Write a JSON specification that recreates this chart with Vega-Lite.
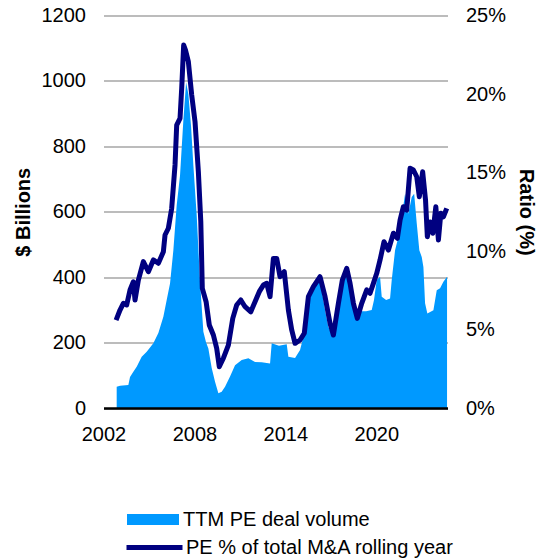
{
  "$schema": "https://vega.github.io/schema/vega-lite/v6.json",
  "width": 344,
  "height": 392.5,
  "autosize": "none",
  "padding": {"left": 103.5, "top": 15.5, "right": 95.5, "bottom": 150},
  "background": "white",
  "config": {
    "view": {"stroke": null},
    "font": "Liberation Sans",
    "axis": {"labelFont": "Liberation Sans", "titleFont": "Liberation Sans", "labelColor": "#000000", "titleColor": "#000000", "labelFontSize": 20, "titleFontSize": 20, "titleFontWeight": "bold", "ticks": false, "tickSize": 0},
    "legend": {"labelFont": "Liberation Sans", "labelFontSize": 20, "labelColor": "#000000", "padding": 0, "labelLimit": 0}
  },
  "datasets": {
    "vol": [
      {"year": 2002.87, "volume": 65}, {"year": 2003.09, "volume": 68}, {"year": 2003.64, "volume": 70}, {"year": 2003.75, "volume": 95},
      {"year": 2003.97, "volume": 111}, {"year": 2004.19, "volume": 126}, {"year": 2004.52, "volume": 157}, {"year": 2004.85, "volume": 172},
      {"year": 2005.29, "volume": 198}, {"year": 2005.62, "volume": 229}, {"year": 2005.95, "volume": 279}, {"year": 2006.17, "volume": 330},
      {"year": 2006.39, "volume": 381}, {"year": 2006.61, "volume": 482}, {"year": 2006.83, "volume": 620}, {"year": 2007.05, "volume": 711},
      {"year": 2007.27, "volume": 880}, {"year": 2007.45, "volume": 995}, {"year": 2007.6, "volume": 960}, {"year": 2007.78, "volume": 860},
      {"year": 2007.93, "volume": 742}, {"year": 2008.15, "volume": 589}, {"year": 2008.37, "volume": 386}, {"year": 2008.59, "volume": 233},
      {"year": 2008.77, "volume": 200}, {"year": 2008.92, "volume": 182}, {"year": 2009.14, "volume": 122}, {"year": 2009.36, "volume": 80},
      {"year": 2009.58, "volume": 45}, {"year": 2009.8, "volume": 50}, {"year": 2010.02, "volume": 65}, {"year": 2010.35, "volume": 96},
      {"year": 2010.68, "volume": 131}, {"year": 2011.12, "volume": 147}, {"year": 2011.56, "volume": 152}, {"year": 2012.0, "volume": 141},
      {"year": 2012.44, "volume": 140}, {"year": 2012.99, "volume": 136}, {"year": 2013.1, "volume": 198}, {"year": 2013.58, "volume": 190},
      {"year": 2014.09, "volume": 195}, {"year": 2014.2, "volume": 157}, {"year": 2014.64, "volume": 153}, {"year": 2014.97, "volume": 177},
      {"year": 2015.3, "volume": 238}, {"year": 2015.63, "volume": 340}, {"year": 2015.96, "volume": 370}, {"year": 2016.29, "volume": 391},
      {"year": 2016.62, "volume": 299}, {"year": 2016.84, "volume": 248}, {"year": 2017.17, "volume": 218}, {"year": 2017.5, "volume": 289},
      {"year": 2017.83, "volume": 391}, {"year": 2018.05, "volume": 412}, {"year": 2018.27, "volume": 360}, {"year": 2018.6, "volume": 299},
      {"year": 2018.93, "volume": 296}, {"year": 2019.33, "volume": 296}, {"year": 2019.7, "volume": 300}, {"year": 2019.85, "volume": 330},
      {"year": 2020.03, "volume": 391}, {"year": 2020.25, "volume": 401}, {"year": 2020.36, "volume": 340}, {"year": 2020.65, "volume": 330},
      {"year": 2020.91, "volume": 335}, {"year": 2021.02, "volume": 391}, {"year": 2021.24, "volume": 482}, {"year": 2021.46, "volume": 523},
      {"year": 2021.68, "volume": 584}, {"year": 2021.9, "volume": 655}, {"year": 2022.12, "volume": 594}, {"year": 2022.34, "volume": 645},
      {"year": 2022.5, "volume": 655}, {"year": 2022.67, "volume": 565}, {"year": 2022.84, "volume": 482}, {"year": 2023.0, "volume": 462},
      {"year": 2023.11, "volume": 431}, {"year": 2023.22, "volume": 320}, {"year": 2023.37, "volume": 289}, {"year": 2023.77, "volume": 299},
      {"year": 2023.99, "volume": 360}, {"year": 2024.21, "volume": 366}, {"year": 2024.43, "volume": 386}, {"year": 2024.67, "volume": 401}
    ],
    "pe": [
      {"year": 2002.83, "ratio": 5.6}, {"year": 2003.09, "ratio": 6.24}, {"year": 2003.31, "ratio": 6.67}, {"year": 2003.53, "ratio": 6.56},
      {"year": 2003.75, "ratio": 7.52}, {"year": 2003.97, "ratio": 8.04}, {"year": 2004.08, "ratio": 6.88}, {"year": 2004.3, "ratio": 8.15},
      {"year": 2004.63, "ratio": 9.32}, {"year": 2004.96, "ratio": 8.68}, {"year": 2005.29, "ratio": 9.43}, {"year": 2005.62, "ratio": 9.22},
      {"year": 2005.95, "ratio": 9.95}, {"year": 2006.06, "ratio": 11.02}, {"year": 2006.28, "ratio": 11.45}, {"year": 2006.5, "ratio": 12.72},
      {"year": 2006.72, "ratio": 15.48}, {"year": 2006.83, "ratio": 18.02}, {"year": 2007.05, "ratio": 18.45}, {"year": 2007.16, "ratio": 20.36},
      {"year": 2007.29, "ratio": 23.12}, {"year": 2007.41, "ratio": 22.8}, {"year": 2007.6, "ratio": 22.06}, {"year": 2007.82, "ratio": 19.94},
      {"year": 2008.04, "ratio": 18.23}, {"year": 2008.26, "ratio": 15.05}, {"year": 2008.42, "ratio": 11.87}, {"year": 2008.52, "ratio": 7.62},
      {"year": 2008.77, "ratio": 6.77}, {"year": 2008.98, "ratio": 5.29}, {"year": 2009.25, "ratio": 4.65}, {"year": 2009.47, "ratio": 3.8},
      {"year": 2009.64, "ratio": 2.63}, {"year": 2009.91, "ratio": 3.17}, {"year": 2010.24, "ratio": 4.01}, {"year": 2010.53, "ratio": 5.71},
      {"year": 2010.79, "ratio": 6.56}, {"year": 2011.06, "ratio": 6.88}, {"year": 2011.34, "ratio": 6.45}, {"year": 2011.72, "ratio": 6.13},
      {"year": 2012.0, "ratio": 6.77}, {"year": 2012.28, "ratio": 7.41}, {"year": 2012.55, "ratio": 7.83}, {"year": 2012.77, "ratio": 7.94},
      {"year": 2012.99, "ratio": 7.09}, {"year": 2013.21, "ratio": 9.53}, {"year": 2013.43, "ratio": 9.53}, {"year": 2013.65, "ratio": 8.36},
      {"year": 2013.93, "ratio": 8.68}, {"year": 2014.2, "ratio": 6.24}, {"year": 2014.42, "ratio": 4.97}, {"year": 2014.64, "ratio": 4.12},
      {"year": 2014.97, "ratio": 4.33}, {"year": 2015.25, "ratio": 4.76}, {"year": 2015.52, "ratio": 7.09}, {"year": 2015.85, "ratio": 7.73},
      {"year": 2016.29, "ratio": 8.36}, {"year": 2016.62, "ratio": 7.09}, {"year": 2016.95, "ratio": 5.39}, {"year": 2017.17, "ratio": 4.65},
      {"year": 2017.5, "ratio": 6.67}, {"year": 2017.76, "ratio": 8.15}, {"year": 2018.05, "ratio": 8.9}, {"year": 2018.27, "ratio": 7.94},
      {"year": 2018.49, "ratio": 6.67}, {"year": 2018.75, "ratio": 5.71}, {"year": 2019.04, "ratio": 6.67}, {"year": 2019.37, "ratio": 7.52},
      {"year": 2019.59, "ratio": 7.31}, {"year": 2019.81, "ratio": 7.94}, {"year": 2020.03, "ratio": 8.58}, {"year": 2020.25, "ratio": 9.43},
      {"year": 2020.51, "ratio": 10.59}, {"year": 2020.8, "ratio": 10.06}, {"year": 2021.13, "ratio": 11.13}, {"year": 2021.39, "ratio": 10.81},
      {"year": 2021.57, "ratio": 11.97}, {"year": 2021.79, "ratio": 12.82}, {"year": 2022.01, "ratio": 12.61}, {"year": 2022.23, "ratio": 15.27},
      {"year": 2022.45, "ratio": 15.16}, {"year": 2022.67, "ratio": 14.73}, {"year": 2022.84, "ratio": 13.46}, {"year": 2023.06, "ratio": 15.05},
      {"year": 2023.25, "ratio": 13.25}, {"year": 2023.37, "ratio": 10.91}, {"year": 2023.55, "ratio": 11.85}, {"year": 2023.73, "ratio": 11.13},
      {"year": 2023.93, "ratio": 12.82}, {"year": 2024.1, "ratio": 10.7}, {"year": 2024.26, "ratio": 12.4}, {"year": 2024.43, "ratio": 12.18},
      {"year": 2024.65, "ratio": 12.72}
    ]
  },
  "layer": [
    {
      "data": {"name": "vol"},
      "mark": {"type": "area", "color": "#0099FF", "interpolate": "linear"},
      "encoding": {
        "x": {"field": "year", "type": "quantitative", "scale": {"domain": [2002, 2024.7], "nice": false, "zero": false},
              "axis": {"values": [2002, 2008, 2014, 2020], "format": "d", "title": null, "grid": false, "domainColor": "#000000", "domainWidth": 2.5, "labelPadding": 16, "labelFlush": false, "labelOverlap": false, "zindex": 1}},
        "y": {"field": "volume", "type": "quantitative", "scale": {"domain": [0, 1200], "nice": false},
              "axis": {"orient": "left", "title": "$ Billions", "format": "d", "values": [0, 200, 400, 600, 800, 1000, 1200], "domain": false, "grid": true, "gridColor": "#A6A6A6", "gridWidth": 1.5, "labelPadding": 18, "titlePadding": 8}},
        "fill": {"datum": "TTM PE deal volume", "type": "nominal", "scale": {"range": ["#0099FF"]},
                 "legend": {"title": null, "orient": "none", "legendX": 23.5, "legendY": 478, "symbolType": "M-1,-0.21H1V0.21H-1Z", "symbolSize": 2704, "symbolStrokeWidth": 0, "symbolOpacity": 1, "labelOffset": 4, "labelLimit": 0}}
      }
    },
    {
      "data": {"name": "pe"},
      "mark": {"type": "line", "color": "#000080", "strokeWidth": 5, "strokeJoin": "round"},
      "encoding": {
        "x": {"field": "year", "type": "quantitative"},
        "y": {"field": "ratio", "type": "quantitative", "scale": {"domain": [0, 25], "nice": false},
              "axis": {"orient": "right", "title": "Ratio (%)", "values": [0, 5, 10, 15, 20, 25], "labelExpr": "datum.value + '%'", "domain": false, "grid": false, "labelPadding": 18, "titlePadding": 10}},
        "stroke": {"datum": "PE % of total M&A rolling year", "type": "nominal", "scale": {"range": ["#000080"]},
                   "legend": {"title": null, "orient": "none", "legendX": 20.5, "legendY": 501.5, "symbolType": "stroke", "symbolSize": 3136, "symbolStrokeWidth": 5, "labelOffset": 1, "labelLimit": 0}}
      }
    }
  ],
  "resolve": {"scale": {"y": "independent"}}
}
